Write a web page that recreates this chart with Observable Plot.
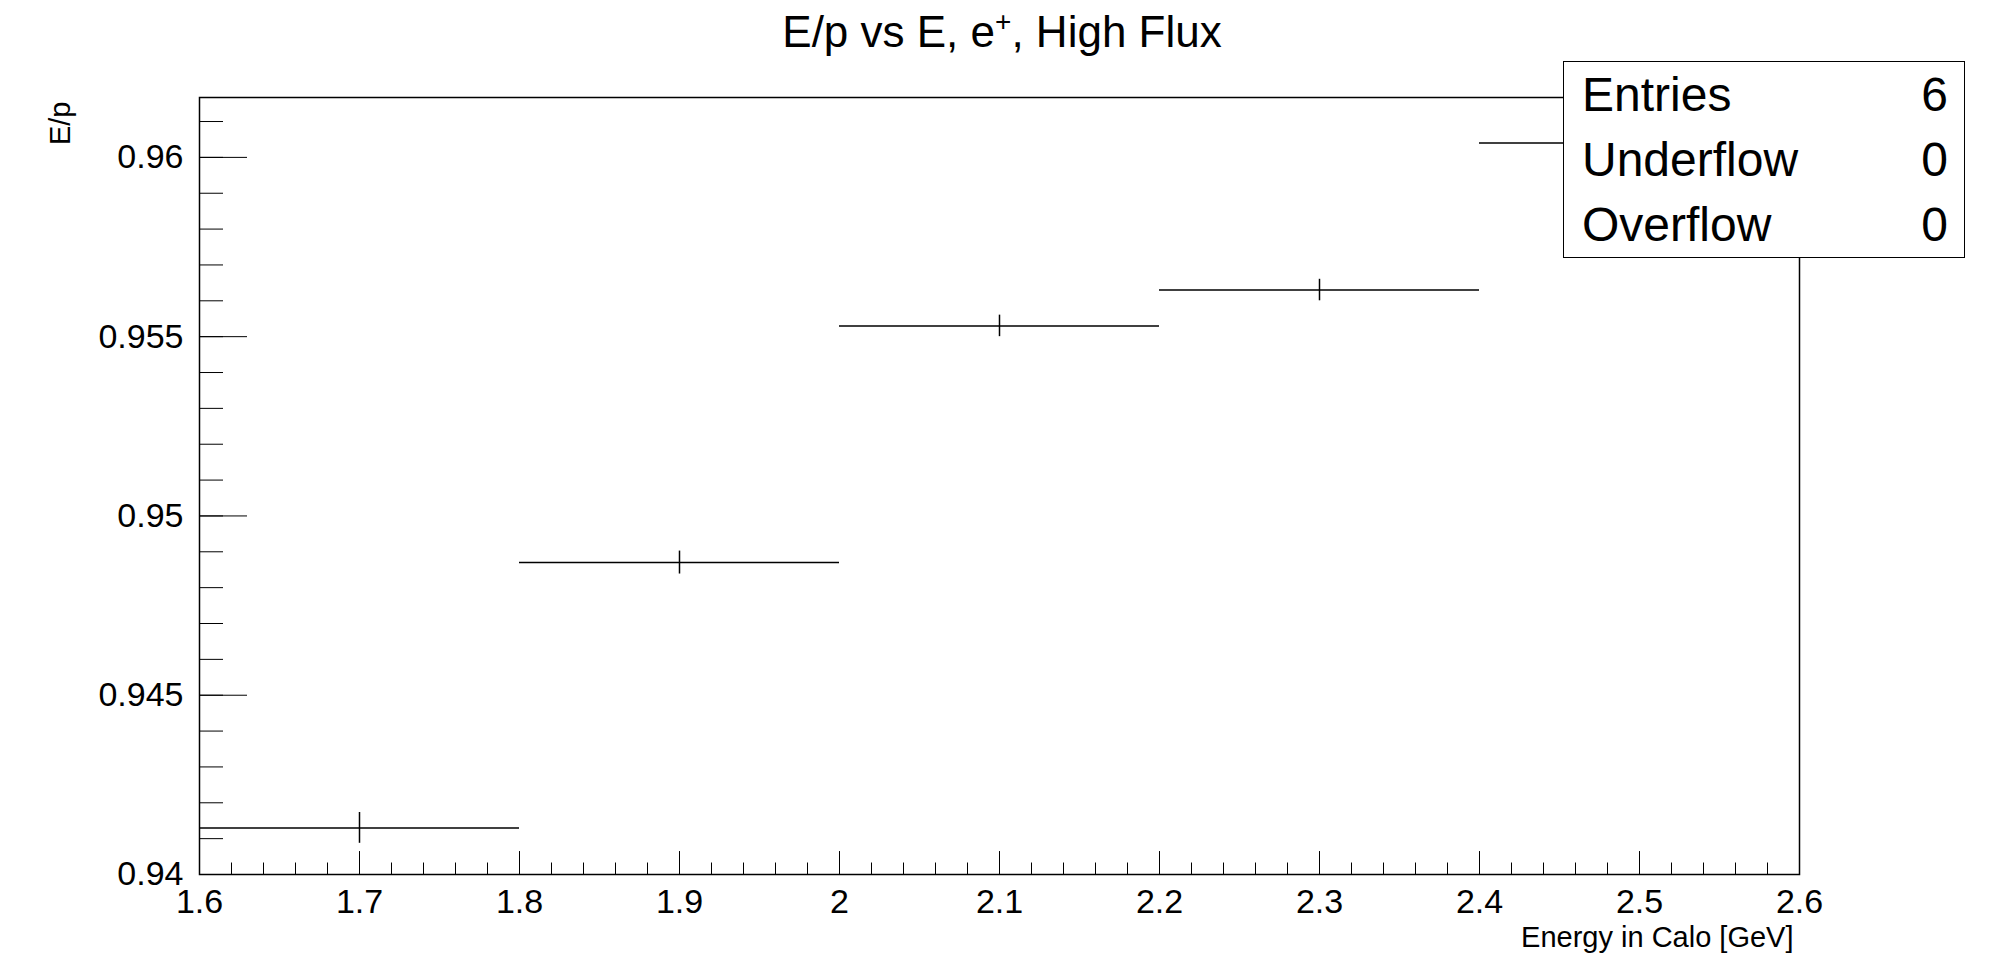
<!DOCTYPE html>
<html>
<head>
<meta charset="utf-8">
<script src="https://cdn.jsdelivr.net/npm/d3@7"></script>
<script src="https://cdn.jsdelivr.net/npm/@observablehq/plot@0.6"></script>
<style>
  body { margin: 0; background: #fff; font-family: "Liberation Sans", Arial, sans-serif; }
  #wrap { position: relative; width: 1996px; height: 972px; }
  #title { position: absolute; left: 0; width: 2004px; top: 6px; text-align: center; font-size: 44px; }
  #stats { position: absolute; left: 1563px; top: 61px; width: 400px; height: 195px; border: 1.5px solid #000; background: #fff; font-size: 48px; }
  #stats div { position: absolute; left: 18px; right: 16px; height: 65px; line-height: 65px; }
  #stats span { position: absolute; right: 0; }
</style>
</head>
<body>
<div id="wrap">
  <div id="chart"></div>
  <div id="title">E/p vs E, e<sup style="font-size:28px">+</sup>, High Flux</div>
  <div id="stats">
    <div style="top:0">Entries<span>6</span></div>
    <div style="top:65px">Underflow<span>0</span></div>
    <div style="top:130px">Overflow<span>0</span></div>
  </div>
</div>
<script>
// bins de la histo (E en GeV)
const binLo = [1.6, 1.8, 2.0, 2.2, 2.4]
const binHi = [1.8, 2.0, 2.2, 2.4, 2.6]
const ep = [0.9413, 0.9487, 0.9553, 0.9563, 0.9604]
const epErr = [0.00043, 0.00032, 0.0003, 0.0003, 0.0003]

const xMajor = [1.6, 1.7, 1.8, 1.9, 2.0, 2.1, 2.2, 2.3, 2.4, 2.5, 2.6]
const xLabels = ["1.6", "1.7", "1.8", "1.9", "2", "2.1", "2.2", "2.3", "2.4", "2.5", "2.6"]
const yMajor = [0.94, 0.945, 0.95, 0.955, 0.96]
const yLabels = ["0.94", "0.945", "0.95", "0.955", "0.96"]

const xMinor = d3.range(0, 51).map(i => 1.6 + i * 0.02)
const yMinor = d3.range(0, 22).map(i => 0.94 + i * 0.001)

const data = binLo.map((lo, i) => ({lo, hi: binHi[i], mid: (lo + binHi[i]) / 2, v: ep[i], e: epErr[i]}))

const chart = Plot.plot({
  width: 1996,
  height: 972,
  marginLeft: 199,
  marginRight: 197,
  marginTop: 97,
  marginBottom: 98,
  style: {fontFamily: "Liberation Sans, Arial, sans-serif", background: "#fff"},
  x: {domain: [1.6, 2.6]},
  y: {domain: [0.94, 0.96167]},
  marks: [
    Plot.frame({stroke: "#000", strokeWidth: 1.5}),
    // ticks dentro del marco
    Plot.ruleY(yMinor, {x1: 1.6, x2: 1.615, stroke: "#000"}),
    Plot.ruleY(yMajor, {x1: 1.6, x2: 1.63, stroke: "#000"}),
    Plot.ruleX(xMinor, {y1: 0.94, y2: 0.94032, stroke: "#000"}),
    Plot.ruleX(xMajor, {y1: 0.94, y2: 0.94064, stroke: "#000"}),
    Plot.axisX(xMajor, {tickSize: 0, tickPadding: 14, fontSize: 34, tickFormat: (d, i) => xLabels[i], label: null}),
    Plot.axisY(yMajor, {tickSize: 0, tickPadding: 16, fontSize: 34, tickFormat: (d, i) => yLabels[i], label: null}),
    Plot.text(["Energy in Calo [GeV]"], {frameAnchor: "bottom-right", dx: -6, dy: 72, fontSize: 29, textAnchor: "end"}),
    Plot.text(["E/p"], {frameAnchor: "top-left", dx: -150, dy: 4, rotate: -90, textAnchor: "end", fontSize: 29}),
    // barras de error
    Plot.ruleY(data, {y: "v", x1: "lo", x2: "hi", stroke: "#000", strokeWidth: 1.5}),
    Plot.ruleX(data, {x: "mid", y1: d => d.v - d.e, y2: d => d.v + d.e, stroke: "#000", strokeWidth: 1.5})
  ]
})
d3.select('#chart').append(() => chart)
</script>
</body>
</html>
